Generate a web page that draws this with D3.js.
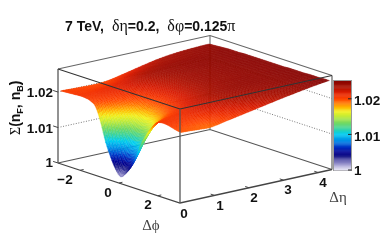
<!DOCTYPE html>
<html><head><meta charset="utf-8">
<script src="https://cdn.jsdelivr.net/npm/d3@7"></script>
<style>
html,body{margin:0;padding:0;background:#fff;overflow:hidden}
svg{filter:blur(0.3px)}
text{font-family:"Liberation Sans",Arial,sans-serif;font-weight:700;fill:#111}
.g{font-family:"Liberation Serif",serif;font-weight:400}
</style></head><body><svg id="c" width="382" height="240"></svg>
<script>
// Δφ sample positions
const phiValues=[-3.10,-2.84,-2.58,-2.33,-2.07,-1.81,-1.55,-1.29,-1.03,-0.78,-0.52,-0.26,0,0.26,0.52,0.78,1.03,1.29,1.55,1.81,2.07,2.33,2.58,2.84,3.10];
// Δη sample positions
const etaValues=[0.05,0.3,0.6,0.9,1.3,1.8,2.4,3.0,3.6,4.35];
// Σ − 1 in units of 0.001, one row for each Δη
const row005=[20.3,20.4,20.5,20.6,20.7,20.6,20.2,19.0,15.0,10.0,6.2,3.2,1.6,3.0,5.2,8.5,12.5,15.5,18.0,20.0,20.6,20.6,20.3,19.9,19.7];
const row030=[20.2,20.3,20.5,20.6,20.8,20.8,20.6,19.8,17.5,14.5,11.0,8.5,7.5,8.2,10.0,12.5,15.5,17.8,19.5,20.4,20.7,20.6,20.2,19.8,19.6];
const row060=[20.1,20.2,20.4,20.7,21.0,21.1,20.9,20.4,19.2,17.3,15.3,14.2,13.8,14.2,15.3,16.8,18.3,19.5,20.3,20.8,20.8,20.6,20.1,19.6,19.4];
const row090=[20.0,20.2,20.5,20.9,21.3,21.4,21.3,20.9,20.2,19.4,18.6,18.2,18.0,18.3,18.8,19.4,20.0,20.6,21.0,21.2,21.2,20.8,20.2,19.6,19.3];
const row130=[20.1,20.5,21.0,21.5,21.9,22.2,22.2,21.9,21.5,21.2,21.0,20.8,20.8,20.9,21.1,21.4,21.7,22.0,22.2,22.1,21.9,21.5,21.0,20.4,20.0];
const row180=[21.0,21.5,22.1,22.6,23.0,23.3,23.3,23.1,22.9,22.8,22.7,22.7,22.7,22.7,22.8,22.9,23.0,23.2,23.2,23.1,22.9,22.5,22.0,21.5,20.9];
const row240=[22.3,22.7,23.1,23.5,23.8,24.0,24.0,24.0,23.9,23.8,23.8,23.8,23.8,23.8,23.8,23.9,23.9,24.0,24.0,23.9,23.7,23.4,23.0,22.5,22.0];
const row300=[23.4,23.6,23.8,24.0,24.2,24.3,24.3,24.3,24.3,24.2,24.2,24.2,24.2,24.2,24.2,24.3,24.3,24.3,24.3,24.2,24.1,23.9,23.7,23.4,23.1];
const row360=[24.0,24.1,24.2,24.3,24.4,24.5,24.5,24.5,24.5,24.5,24.5,24.5,24.5,24.5,24.5,24.5,24.5,24.5,24.5,24.5,24.5,24.4,24.3,24.2,24.1];
const row435=[24.3,24.4,24.5,24.6,24.7,24.7,24.7,24.8,24.8,24.8,24.8,24.8,24.8,24.8,24.8,24.8,24.9,24.9,24.9,24.9,25.0,25.0,25.0,25.1,25.1];
const rows=[row005,row030,row060,row090,row130,row180,row240,row300,row360,row435];
const phiTicks=[-2,0,2], etaTicks=[0,1,2,3,4], zTicks=[1,1.01,1.02];
const colorStops=[0,2,4,5,6.5,8,10.2,11.5,13.5,15,16.5,17.8,19,20,21,22,23.5,25];
const colorValues=["#eceaf8","#8f8ac8","#1a1a88","#00008f","#0030c4","#0080e4","#00cdf0","#30d2a8","#7ada5c","#bcea3c","#f2f01e","#ffb400","#ff7400","#ff4800","#f03000","#d81c00","#a81000","#860400"];

const svg=d3.select("#c");
const sPhiX=d3.scaleLinear([-Math.PI,Math.PI],[0,122]), sPhiY=d3.scaleLinear([-Math.PI,Math.PI],[0,40]);
const sEtaX=d3.scaleLinear([0,4.4],[0,152]), sEtaY=d3.scaleLinear([0,4.4],[0,-33.5]);
const sZ=d3.scaleLinear([1,1.0265],[0,-94]);
const color=d3.scaleLinear(colorStops,colorValues).clamp(true);
const P=(f,e,z)=>[58+sPhiX(f)+sEtaX(e),163+sPhiY(f)+sEtaY(e)+sZ(z)];
const PI=Math.PI, E=4.4, T=1.0265, B=1;
const line=(pts,stroke,w,dash)=>svg.append("path").attr("d",d3.line()(pts)).attr("fill","none").attr("stroke",stroke).attr("stroke-width",w).attr("stroke-dasharray",dash||null);

// walls
zTicks.slice(1).forEach(z=>{
  line([P(-PI,0,z),P(-PI,E,z),P(PI,E,z)],"#777",1,"1 1.6");
});
line([P(-PI,0,B),P(-PI,E,B),P(PI,E,B)],"#555",1.2);
line([P(-PI,0,T),P(-PI,E,T),P(PI,E,T)],"#666",1.2);
line([P(-PI,E,B),P(-PI,E,T)],"#777",1.2);
line([P(-PI,0,B),P(-PI,0,T)],"#777",1.6);
line([P(PI,E,B),P(PI,E,T)],"#888",1.6);
line([P(-PI,0,B),P(PI,0,B),P(PI,E,B)],"#444",1.3);

// axis ticks
phiTicks.forEach(f=>line([P(f,0,B),P(f,0.1,B)],"#444",1));
etaTicks.slice(1).forEach(e=>line([P(PI,e,B),P(PI-0.2,e,B)],"#444",1));
zTicks.forEach(z=>line([P(-PI,0,z),P(-PI-0.25,0,z)],"#444",1));

// surface drawn back to front, smooth between the read samples
const cr=(a,b,c,d,t)=>0.5*(2*b+(c-a)*t+(2*a-5*b+4*c-d)*t*t+(3*b-a-3*c+d)*t*t*t);
const at=(arr,i)=>arr[Math.max(0,Math.min(arr.length-1,i))];
function lin(arr,u){const i=Math.min(arr.length-2,Math.floor(u));return arr[i]+(arr[i+1]-arr[i])*(u-i);}
function val(u,v){
  const j=Math.min(rows.length-2,Math.floor(v)),tv=v-j;
  const i=Math.min(phiValues.length-2,Math.floor(u)),tu=u-i;
  const c=[-1,0,1,2].map(dj=>{const r=at(rows,j+dj);return cr(at(r,i-1),at(r,i),at(r,i+1),at(r,i+2),tu);});
  return cr(c[0],c[1],c[2],c[3],tv);
}
const nu=(phiValues.length-1)*4, nv=(etaValues.length-1)*6, cells=[];
const vert=(a,b)=>{const u=a/4,v=b/6;return P(lin(phiValues,u),lin(etaValues,v),1+val(u,v)/1000);};
for(let b=nv-1;b>=0;b--)for(let a=0;a<nu;a++){
  cells.push({q:[vert(a,b),vert(a+1,b),vert(a+1,b+1),vert(a,b+1)],z:val((a+.5)/4,(b+.5)/6)});
}
svg.append("g").selectAll("path").data(cells).join("path")
 .attr("d",d=>d3.line()(d.q)+"Z").attr("fill",d=>color(d.z)).attr("stroke",d=>color(d.z)).attr("stroke-width",.35);

// front edges
line([P(-PI,0,T),P(PI,0,T),P(PI,E,T)],"#333",1.1);
line([P(PI,0,B),P(PI,0,T)],"#555",1.3);

// colour bar
const barY=d3.scaleLinear([0,25],[170,81]);
svg.append("rect").attr("x",333.5).attr("y",80.5).attr("width",18).attr("height",90).attr("fill","none").attr("stroke","#999").attr("stroke-width",1);
svg.append("g").selectAll("rect").data(d3.range(0,25,0.25)).join("rect")
 .attr("x",334).attr("width",17).attr("y",d=>barY(d+.25)).attr("height",d=>barY(d)-barY(d+.25)+.4).attr("fill",d=>color(d+.125));
zTicks.forEach(z=>{const y=barY((z-1)*1000);line([[348,y],[351.5,y]],"#222",1);});
const text=(x,y,s,size,anchor,cls)=>svg.append("text").attr("x",x).attr("y",y).attr("font-size",size).attr("text-anchor",anchor||"middle").attr("class",cls||null).text(s);
[["1.02",105],["1.01",140.5],["1",175]].forEach((d,i)=>text(354,d[1],d[0],13.5,"start"));

// axis labels
[["1.02",97],["1.01",133],["1",167]].forEach(d=>text(53,d[1],d[0],13.5,"end"));
[["\u22122",65,184],["0",108,197],["2",148,209],["0",184,218],["1",220,210],["2",254,202],["3",288,194],["4",323,187]].forEach(d=>text(d[1],d[2],d[0],13.5));
text(151,230,"\u0394\u03d5",15,"middle","g").style("fill","#444");
text(338,202,"\u0394\u03b7",15,"middle","g").style("fill","#444");

// title
const t=svg.append("text").attr("x",65).attr("y",31).attr("font-size",14);
[["7 TeV,",0],[" \u00a0\u03b4\u03b7",1],["=0.2,",0],[" \u00a0\u03b4\u03c6",1],["=0.125",0],["\u03c0",1]].forEach(d=>t.append("tspan").attr("class",d[1]?"g":null).style("font-size",d[1]?"16px":null).text(d[0]));

// y title
const yl=svg.append("text").attr("transform","translate(20,135) rotate(-90)").attr("font-size",14);
yl.append("tspan").attr("class","g").style("font-size","14px").text("\u03a3");
yl.append("tspan").text("(n");
yl.append("tspan").attr("dy",3).style("font-size","9px").text("F");
yl.append("tspan").attr("dy",-3).text(", n");
yl.append("tspan").attr("dy",3).style("font-size","9px").text("B");
yl.append("tspan").attr("dy",-3).text(")");
</script></body></html>
